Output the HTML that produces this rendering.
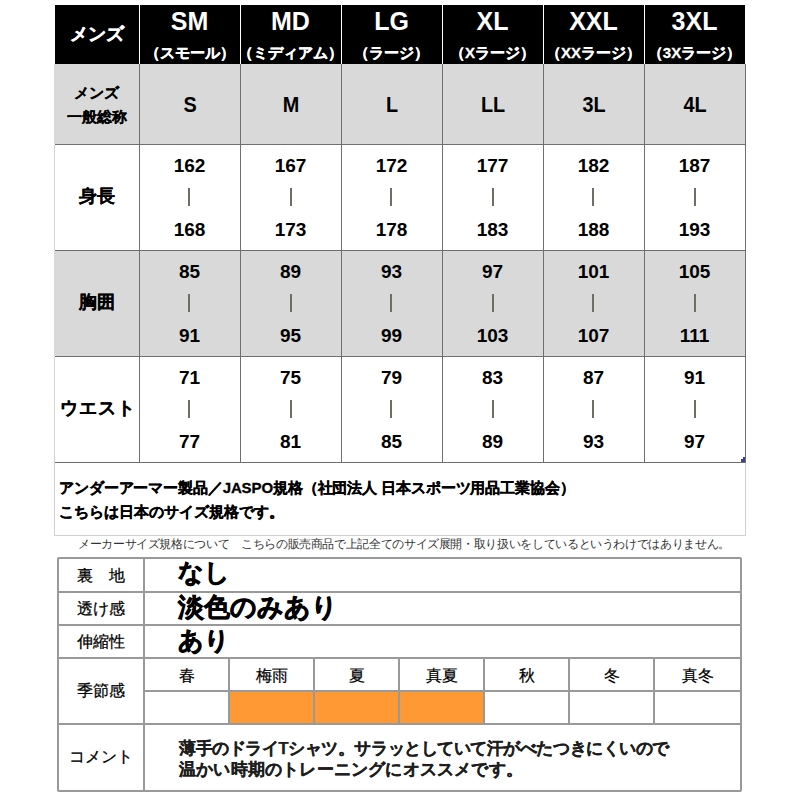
<!DOCTYPE html>
<html><head><meta charset="utf-8"><style>
html,body{margin:0;padding:0;background:#fff;width:800px;height:800px;overflow:hidden;}
body{position:relative;font-family:"Liberation Sans",sans-serif;}
div{position:absolute;}
.t{white-space:nowrap;}
</style></head><body>
<div style="left:55px;top:5px;width:690px;height:59px;background:#000;"></div>
<div style="left:54px;top:64px;width:692px;height:80px;background:#d9d9d9;"></div>
<div style="left:54px;top:251px;width:692px;height:105px;background:#d9d9d9;"></div>
<div style="left:55px;top:144px;width:691px;height:1px;background:#6f6f6f;"></div>
<div style="left:55px;top:250px;width:691px;height:1px;background:#6f6f6f;"></div>
<div style="left:55px;top:356px;width:691px;height:1px;background:#6f6f6f;"></div>
<div style="left:55px;top:462px;width:691px;height:1px;background:#6f6f6f;"></div>
<div style="left:139px;top:64px;width:1px;height:398px;background:#6f6f6f;"></div>
<div style="left:139px;top:5px;width:1px;height:59px;background:#fff;"></div>
<div style="left:240px;top:64px;width:1px;height:398px;background:#6f6f6f;"></div>
<div style="left:240px;top:5px;width:1px;height:59px;background:#fff;"></div>
<div style="left:341px;top:64px;width:1px;height:398px;background:#6f6f6f;"></div>
<div style="left:341px;top:5px;width:1px;height:59px;background:#fff;"></div>
<div style="left:442px;top:64px;width:1px;height:398px;background:#6f6f6f;"></div>
<div style="left:442px;top:5px;width:1px;height:59px;background:#fff;"></div>
<div style="left:543px;top:64px;width:1px;height:398px;background:#6f6f6f;"></div>
<div style="left:543px;top:5px;width:1px;height:59px;background:#fff;"></div>
<div style="left:644px;top:64px;width:1px;height:398px;background:#6f6f6f;"></div>
<div style="left:644px;top:5px;width:1px;height:59px;background:#fff;"></div>
<div style="left:745px;top:64px;width:1px;height:399px;background:#6f6f6f;"></div>
<div style="left:54px;top:145px;width:1px;height:105px;background:#d4d4d4;"></div>
<div style="left:54px;top:357px;width:1px;height:106px;background:#d4d4d4;"></div>
<div style="left:54px;top:463px;width:1px;height:73px;background:#d0d0d0;"></div>
<div style="left:745px;top:463px;width:1px;height:73px;background:#d0d0d0;"></div>
<div style="left:54px;top:535px;width:692px;height:1px;background:#d0d0d0;"></div>
<div style="left:741px;top:459px;width:4px;height:3px;background:#3a3fa0;"></div>
<div style="left:743px;top:457px;width:2px;height:2px;background:#3a3fa0;"></div>
<div class="t" style="left:-53.5px;top:24.5px;width:300px;font-size:18px;line-height:18px;color:#fff;font-weight:bold;letter-spacing:0px;text-align:center;-webkit-text-stroke:0.4px #fff;">メンズ</div>
<div class="t" style="left:39.5px;top:8.5px;width:300px;font-size:25px;line-height:25px;color:#fff;font-weight:bold;letter-spacing:0px;text-align:center;">SM</div>
<div class="t" style="left:39.5px;top:45.0px;width:300px;font-size:15px;line-height:15px;color:#fff;font-weight:bold;letter-spacing:0px;text-align:center;-webkit-text-stroke:0.3px #fff;">（スモール）</div>
<div class="t" style="left:140.5px;top:8.5px;width:300px;font-size:25px;line-height:25px;color:#fff;font-weight:bold;letter-spacing:0px;text-align:center;">MD</div>
<div class="t" style="left:140.5px;top:45.0px;width:300px;font-size:15px;line-height:15px;color:#fff;font-weight:bold;letter-spacing:0px;text-align:center;-webkit-text-stroke:0.3px #fff;">（ミディアム）</div>
<div class="t" style="left:241.5px;top:8.5px;width:300px;font-size:25px;line-height:25px;color:#fff;font-weight:bold;letter-spacing:0px;text-align:center;">LG</div>
<div class="t" style="left:241.5px;top:45.0px;width:300px;font-size:15px;line-height:15px;color:#fff;font-weight:bold;letter-spacing:0px;text-align:center;-webkit-text-stroke:0.3px #fff;">（ラージ）</div>
<div class="t" style="left:342.5px;top:8.5px;width:300px;font-size:25px;line-height:25px;color:#fff;font-weight:bold;letter-spacing:0px;text-align:center;">XL</div>
<div class="t" style="left:342.5px;top:45.0px;width:300px;font-size:15px;line-height:15px;color:#fff;font-weight:bold;letter-spacing:0px;text-align:center;-webkit-text-stroke:0.3px #fff;">（Xラージ）</div>
<div class="t" style="left:443.5px;top:8.5px;width:300px;font-size:25px;line-height:25px;color:#fff;font-weight:bold;letter-spacing:0px;text-align:center;">XXL</div>
<div class="t" style="left:443.5px;top:45.0px;width:300px;font-size:15px;line-height:15px;color:#fff;font-weight:bold;letter-spacing:0px;text-align:center;-webkit-text-stroke:0.3px #fff;">（XXラージ）</div>
<div class="t" style="left:544.5px;top:8.5px;width:300px;font-size:25px;line-height:25px;color:#fff;font-weight:bold;letter-spacing:0px;text-align:center;">3XL</div>
<div class="t" style="left:544.5px;top:45.0px;width:300px;font-size:15px;line-height:15px;color:#fff;font-weight:bold;letter-spacing:0px;text-align:center;-webkit-text-stroke:0.3px #fff;">（3Xラージ）</div>
<div class="t" style="left:-53.5px;top:84.5px;width:300px;font-size:15px;line-height:15px;color:#000;font-weight:bold;letter-spacing:0px;text-align:center;-webkit-text-stroke:0.2px #000;">メンズ</div>
<div class="t" style="left:-53.5px;top:108.5px;width:300px;font-size:15px;line-height:15px;color:#000;font-weight:bold;letter-spacing:0px;text-align:center;-webkit-text-stroke:0.1px #000;">一般総称</div>
<div class="t" style="left:39.5px;top:93.5px;width:300px;font-size:22px;line-height:22px;color:#000;font-weight:bold;letter-spacing:0px;text-align:center;transform:scaleX(0.9);">S</div>
<div class="t" style="left:140.5px;top:93.5px;width:300px;font-size:22px;line-height:22px;color:#000;font-weight:bold;letter-spacing:0px;text-align:center;transform:scaleX(0.9);">M</div>
<div class="t" style="left:241.5px;top:93.5px;width:300px;font-size:22px;line-height:22px;color:#000;font-weight:bold;letter-spacing:0px;text-align:center;transform:scaleX(0.9);">L</div>
<div class="t" style="left:342.5px;top:93.5px;width:300px;font-size:22px;line-height:22px;color:#000;font-weight:bold;letter-spacing:0px;text-align:center;transform:scaleX(0.9);">LL</div>
<div class="t" style="left:443.5px;top:93.5px;width:300px;font-size:22px;line-height:22px;color:#000;font-weight:bold;letter-spacing:0px;text-align:center;transform:scaleX(0.9);">3L</div>
<div class="t" style="left:544.5px;top:93.5px;width:300px;font-size:22px;line-height:22px;color:#000;font-weight:bold;letter-spacing:0px;text-align:center;transform:scaleX(0.9);">4L</div>
<div class="t" style="left:-53.0px;top:188.25px;width:300px;font-size:17.5px;line-height:17.5px;color:#000;font-weight:bold;letter-spacing:0px;text-align:center;-webkit-text-stroke:0.2px #000;">身長</div>
<div class="t" style="left:39.5px;top:155.5px;width:300px;font-size:19px;line-height:19px;color:#000;font-weight:bold;letter-spacing:0px;text-align:center;">162</div>
<div style="left:188px;top:188px;width:2px;height:18px;background:#6e6e64;"></div>
<div class="t" style="left:39.5px;top:219.5px;width:300px;font-size:19px;line-height:19px;color:#000;font-weight:bold;letter-spacing:0px;text-align:center;">168</div>
<div class="t" style="left:140.5px;top:155.5px;width:300px;font-size:19px;line-height:19px;color:#000;font-weight:bold;letter-spacing:0px;text-align:center;">167</div>
<div style="left:290px;top:188px;width:2px;height:18px;background:#6e6e64;"></div>
<div class="t" style="left:140.5px;top:219.5px;width:300px;font-size:19px;line-height:19px;color:#000;font-weight:bold;letter-spacing:0px;text-align:center;">173</div>
<div class="t" style="left:241.5px;top:155.5px;width:300px;font-size:19px;line-height:19px;color:#000;font-weight:bold;letter-spacing:0px;text-align:center;">172</div>
<div style="left:390px;top:188px;width:2px;height:18px;background:#6e6e64;"></div>
<div class="t" style="left:241.5px;top:219.5px;width:300px;font-size:19px;line-height:19px;color:#000;font-weight:bold;letter-spacing:0px;text-align:center;">178</div>
<div class="t" style="left:342.5px;top:155.5px;width:300px;font-size:19px;line-height:19px;color:#000;font-weight:bold;letter-spacing:0px;text-align:center;">177</div>
<div style="left:492px;top:188px;width:2px;height:18px;background:#6e6e64;"></div>
<div class="t" style="left:342.5px;top:219.5px;width:300px;font-size:19px;line-height:19px;color:#000;font-weight:bold;letter-spacing:0px;text-align:center;">183</div>
<div class="t" style="left:443.5px;top:155.5px;width:300px;font-size:19px;line-height:19px;color:#000;font-weight:bold;letter-spacing:0px;text-align:center;">182</div>
<div style="left:592px;top:188px;width:2px;height:18px;background:#6e6e64;"></div>
<div class="t" style="left:443.5px;top:219.5px;width:300px;font-size:19px;line-height:19px;color:#000;font-weight:bold;letter-spacing:0px;text-align:center;">188</div>
<div class="t" style="left:544.5px;top:155.5px;width:300px;font-size:19px;line-height:19px;color:#000;font-weight:bold;letter-spacing:0px;text-align:center;">187</div>
<div style="left:694px;top:188px;width:2px;height:18px;background:#6e6e64;"></div>
<div class="t" style="left:544.5px;top:219.5px;width:300px;font-size:19px;line-height:19px;color:#000;font-weight:bold;letter-spacing:0px;text-align:center;">193</div>
<div class="t" style="left:-53.0px;top:294.25px;width:300px;font-size:17.5px;line-height:17.5px;color:#000;font-weight:bold;letter-spacing:0px;text-align:center;-webkit-text-stroke:0.2px #000;">胸囲</div>
<div class="t" style="left:39.5px;top:261.5px;width:300px;font-size:19px;line-height:19px;color:#000;font-weight:bold;letter-spacing:0px;text-align:center;">85</div>
<div style="left:188px;top:294px;width:2px;height:18px;background:#6e6e64;"></div>
<div class="t" style="left:39.5px;top:325.5px;width:300px;font-size:19px;line-height:19px;color:#000;font-weight:bold;letter-spacing:0px;text-align:center;">91</div>
<div class="t" style="left:140.5px;top:261.5px;width:300px;font-size:19px;line-height:19px;color:#000;font-weight:bold;letter-spacing:0px;text-align:center;">89</div>
<div style="left:290px;top:294px;width:2px;height:18px;background:#6e6e64;"></div>
<div class="t" style="left:140.5px;top:325.5px;width:300px;font-size:19px;line-height:19px;color:#000;font-weight:bold;letter-spacing:0px;text-align:center;">95</div>
<div class="t" style="left:241.5px;top:261.5px;width:300px;font-size:19px;line-height:19px;color:#000;font-weight:bold;letter-spacing:0px;text-align:center;">93</div>
<div style="left:390px;top:294px;width:2px;height:18px;background:#6e6e64;"></div>
<div class="t" style="left:241.5px;top:325.5px;width:300px;font-size:19px;line-height:19px;color:#000;font-weight:bold;letter-spacing:0px;text-align:center;">99</div>
<div class="t" style="left:342.5px;top:261.5px;width:300px;font-size:19px;line-height:19px;color:#000;font-weight:bold;letter-spacing:0px;text-align:center;">97</div>
<div style="left:492px;top:294px;width:2px;height:18px;background:#6e6e64;"></div>
<div class="t" style="left:342.5px;top:325.5px;width:300px;font-size:19px;line-height:19px;color:#000;font-weight:bold;letter-spacing:0px;text-align:center;">103</div>
<div class="t" style="left:443.5px;top:261.5px;width:300px;font-size:19px;line-height:19px;color:#000;font-weight:bold;letter-spacing:0px;text-align:center;">101</div>
<div style="left:592px;top:294px;width:2px;height:18px;background:#6e6e64;"></div>
<div class="t" style="left:443.5px;top:325.5px;width:300px;font-size:19px;line-height:19px;color:#000;font-weight:bold;letter-spacing:0px;text-align:center;">107</div>
<div class="t" style="left:544.5px;top:261.5px;width:300px;font-size:19px;line-height:19px;color:#000;font-weight:bold;letter-spacing:0px;text-align:center;">105</div>
<div style="left:694px;top:294px;width:2px;height:18px;background:#6e6e64;"></div>
<div class="t" style="left:544.5px;top:325.5px;width:300px;font-size:19px;line-height:19px;color:#000;font-weight:bold;letter-spacing:0px;text-align:center;">111</div>
<div class="t" style="left:-52.0px;top:400.25px;width:300px;font-size:17.5px;line-height:17.5px;color:#000;font-weight:bold;letter-spacing:1px;text-align:center;-webkit-text-stroke:0.2px #000;">ウエスト</div>
<div class="t" style="left:39.5px;top:367.5px;width:300px;font-size:19px;line-height:19px;color:#000;font-weight:bold;letter-spacing:0px;text-align:center;">71</div>
<div style="left:188px;top:400px;width:2px;height:18px;background:#6e6e64;"></div>
<div class="t" style="left:39.5px;top:431.5px;width:300px;font-size:19px;line-height:19px;color:#000;font-weight:bold;letter-spacing:0px;text-align:center;">77</div>
<div class="t" style="left:140.5px;top:367.5px;width:300px;font-size:19px;line-height:19px;color:#000;font-weight:bold;letter-spacing:0px;text-align:center;">75</div>
<div style="left:290px;top:400px;width:2px;height:18px;background:#6e6e64;"></div>
<div class="t" style="left:140.5px;top:431.5px;width:300px;font-size:19px;line-height:19px;color:#000;font-weight:bold;letter-spacing:0px;text-align:center;">81</div>
<div class="t" style="left:241.5px;top:367.5px;width:300px;font-size:19px;line-height:19px;color:#000;font-weight:bold;letter-spacing:0px;text-align:center;">79</div>
<div style="left:390px;top:400px;width:2px;height:18px;background:#6e6e64;"></div>
<div class="t" style="left:241.5px;top:431.5px;width:300px;font-size:19px;line-height:19px;color:#000;font-weight:bold;letter-spacing:0px;text-align:center;">85</div>
<div class="t" style="left:342.5px;top:367.5px;width:300px;font-size:19px;line-height:19px;color:#000;font-weight:bold;letter-spacing:0px;text-align:center;">83</div>
<div style="left:492px;top:400px;width:2px;height:18px;background:#6e6e64;"></div>
<div class="t" style="left:342.5px;top:431.5px;width:300px;font-size:19px;line-height:19px;color:#000;font-weight:bold;letter-spacing:0px;text-align:center;">89</div>
<div class="t" style="left:443.5px;top:367.5px;width:300px;font-size:19px;line-height:19px;color:#000;font-weight:bold;letter-spacing:0px;text-align:center;">87</div>
<div style="left:592px;top:400px;width:2px;height:18px;background:#6e6e64;"></div>
<div class="t" style="left:443.5px;top:431.5px;width:300px;font-size:19px;line-height:19px;color:#000;font-weight:bold;letter-spacing:0px;text-align:center;">93</div>
<div class="t" style="left:544.5px;top:367.5px;width:300px;font-size:19px;line-height:19px;color:#000;font-weight:bold;letter-spacing:0px;text-align:center;">91</div>
<div style="left:694px;top:400px;width:2px;height:18px;background:#6e6e64;"></div>
<div class="t" style="left:544.5px;top:431.5px;width:300px;font-size:19px;line-height:19px;color:#000;font-weight:bold;letter-spacing:0px;text-align:center;">97</div>
<div class="t" style="left:59px;top:479.5px;width:680px;font-size:15px;line-height:15px;color:#000;font-weight:bold;letter-spacing:-0.12px;text-align:left;-webkit-text-stroke:0.3px #000;">アンダーアーマー製品／JASPO規格（社団法人 日本スポーツ用品工業協会）</div>
<div class="t" style="left:59px;top:503.5px;width:680px;font-size:15px;line-height:15px;color:#000;font-weight:bold;letter-spacing:0px;text-align:left;-webkit-text-stroke:0.3px #000;">こちらは日本のサイズ規格です。</div>
<div class="t" style="left:78px;top:538.75px;width:720px;font-size:11.5px;line-height:11.5px;color:#333;font-weight:normal;letter-spacing:-0.36px;text-align:left;">メーカーサイズ規格について　こちらの販売商品で上記全てのサイズ展開・取り扱いをしているというわけではありません。</div>
<div style="left:57px;top:557px;width:681px;height:231px;border:2px solid #999999;border-radius:2px;"></div>
<div style="left:143px;top:557px;width:2px;height:235px;background:#999999;"></div>
<div style="left:57px;top:591px;width:685px;height:2px;background:#999999;"></div>
<div style="left:57px;top:624px;width:685px;height:2px;background:#999999;"></div>
<div style="left:57px;top:657px;width:685px;height:2px;background:#999999;"></div>
<div style="left:57px;top:723px;width:685px;height:2px;background:#999999;"></div>
<div style="left:143px;top:690px;width:599px;height:2px;background:#999999;"></div>
<div style="left:228px;top:657px;width:2px;height:68px;background:#999999;"></div>
<div style="left:313px;top:657px;width:2px;height:68px;background:#999999;"></div>
<div style="left:398px;top:657px;width:2px;height:68px;background:#999999;"></div>
<div style="left:483px;top:657px;width:2px;height:68px;background:#999999;"></div>
<div style="left:568px;top:657px;width:2px;height:68px;background:#999999;"></div>
<div style="left:653px;top:657px;width:2px;height:68px;background:#999999;"></div>
<div style="left:230px;top:692px;width:83px;height:31px;background:#ff9933;"></div>
<div style="left:315px;top:692px;width:83px;height:31px;background:#ff9933;"></div>
<div style="left:400px;top:692px;width:83px;height:31px;background:#ff9933;"></div>
<div class="t" style="left:-49.5px;top:568.0px;width:300px;font-size:16px;line-height:16px;color:#000;font-weight:normal;letter-spacing:0px;text-align:center;-webkit-text-stroke:0.25px #000;">裏　地</div>
<div class="t" style="left:-49.5px;top:601.0px;width:300px;font-size:16px;line-height:16px;color:#000;font-weight:normal;letter-spacing:0px;text-align:center;-webkit-text-stroke:0.25px #000;">透け感</div>
<div class="t" style="left:-49.5px;top:634.0px;width:300px;font-size:16px;line-height:16px;color:#000;font-weight:normal;letter-spacing:0px;text-align:center;-webkit-text-stroke:0.25px #000;">伸縮性</div>
<div class="t" style="left:-49.5px;top:683.0px;width:300px;font-size:16px;line-height:16px;color:#000;font-weight:normal;letter-spacing:0px;text-align:center;-webkit-text-stroke:0.25px #000;">季節感</div>
<div class="t" style="left:-49.5px;top:749.0px;width:300px;font-size:16px;line-height:16px;color:#000;font-weight:normal;letter-spacing:0px;text-align:center;-webkit-text-stroke:0.25px #000;">コメント</div>
<div class="t" style="left:178px;top:559.5px;width:400px;font-size:25px;line-height:25px;color:#000;font-weight:bold;letter-spacing:0px;text-align:left;-webkit-text-stroke:0.7px #000;">なし</div>
<div class="t" style="left:178px;top:594.0px;width:400px;font-size:26px;line-height:26px;color:#000;font-weight:bold;letter-spacing:0px;text-align:left;-webkit-text-stroke:0.7px #000;">淡色のみあり</div>
<div class="t" style="left:178px;top:627.5px;width:400px;font-size:25px;line-height:25px;color:#000;font-weight:bold;letter-spacing:0px;text-align:left;-webkit-text-stroke:0.7px #000;">あり</div>
<div class="t" style="left:36.5px;top:667.5px;width:300px;font-size:16px;line-height:16px;color:#000;font-weight:normal;letter-spacing:0px;text-align:center;-webkit-text-stroke:0.2px #000;">春</div>
<div class="t" style="left:121.5px;top:667.5px;width:300px;font-size:16px;line-height:16px;color:#000;font-weight:normal;letter-spacing:0px;text-align:center;-webkit-text-stroke:0.2px #000;">梅雨</div>
<div class="t" style="left:206.5px;top:667.5px;width:300px;font-size:16px;line-height:16px;color:#000;font-weight:normal;letter-spacing:0px;text-align:center;-webkit-text-stroke:0.2px #000;">夏</div>
<div class="t" style="left:291.5px;top:667.5px;width:300px;font-size:16px;line-height:16px;color:#000;font-weight:normal;letter-spacing:0px;text-align:center;-webkit-text-stroke:0.2px #000;">真夏</div>
<div class="t" style="left:376.5px;top:667.5px;width:300px;font-size:16px;line-height:16px;color:#000;font-weight:normal;letter-spacing:0px;text-align:center;-webkit-text-stroke:0.2px #000;">秋</div>
<div class="t" style="left:461.5px;top:667.5px;width:300px;font-size:16px;line-height:16px;color:#000;font-weight:normal;letter-spacing:0px;text-align:center;-webkit-text-stroke:0.2px #000;">冬</div>
<div class="t" style="left:547.5px;top:667.5px;width:300px;font-size:16px;line-height:16px;color:#000;font-weight:normal;letter-spacing:0px;text-align:center;-webkit-text-stroke:0.2px #000;">真冬</div>
<div class="t" style="left:179px;top:739.5px;width:560px;font-size:17px;line-height:17px;color:#1e1e1e;font-weight:bold;letter-spacing:-0.45px;text-align:left;-webkit-text-stroke:0.25px #1e1e1e;">薄手のドライTシャツ。サラッとしていて汗がべたつきにくいので</div>
<div class="t" style="left:179px;top:761.0px;width:560px;font-size:17px;line-height:17px;color:#1e1e1e;font-weight:bold;letter-spacing:0.2px;text-align:left;-webkit-text-stroke:0.25px #1e1e1e;">温かい時期のトレーニングにオススメです。</div>
</body></html>
